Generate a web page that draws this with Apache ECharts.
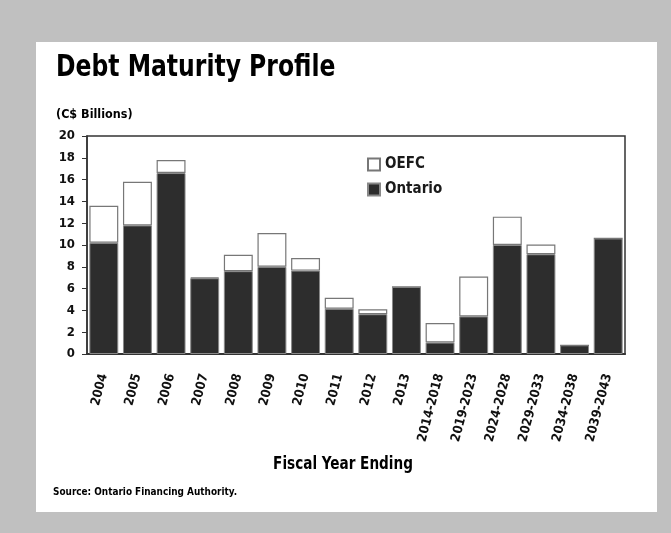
<!DOCTYPE html>
<html><head><meta charset="utf-8">
<script src="https://cdn.jsdelivr.net/npm/echarts@6/dist/echarts.min.js"></script>
<style>html,body{margin:0;padding:0;background:#c0c0c0}#c{width:671px;height:533px}</style>
</head><body><div id="c"></div>
<script>
var categories = ['2004','2005','2006','2007','2008','2009','2010','2011','2012','2013','2014-2018','2019-2023','2024-2028','2029-2033','2034-2038','2039-2043'];
var ontario = [10.2, 11.8, 16.6, 6.95, 7.6, 8.0, 7.65, 4.15, 3.65, 6.15, 1.05, 3.45, 10.0, 9.15, 0.8, 10.6];
var oefc = [3.4, 4.0, 1.2, 0.08, 1.5, 3.1, 1.15, 1.0, 0.45, 0, 1.8, 3.65, 2.6, 0.9, 0, 0];
var yTicks = [0,2,4,6,8,10,12,14,16,18,20];

var F = '"DejaVu Sans Condensed","Liberation Sans Narrow",sans-serif';
var chart = echarts.init(document.getElementById('c'));
chart.setOption({
  backgroundColor: '#c0c0c0',
  animation: false,
  graphic: [
    {type:'rect', shape:{x:36,y:42,width:621,height:470}, style:{fill:'#fff'}, z:-10},
    {type:'text', x:56, y:68, scaleX:0.87, style:{text:'Debt Maturity Profile', font:'bold 30px '+F, fill:'#000', verticalAlign:'middle'}},
    {type:'text', x:56, y:115, scaleX:0.96, style:{text:'(C$ Billions)', font:'bold 13px '+F, fill:'#000', verticalAlign:'middle'}},
    {type:'text', x:343, y:464.5, scaleX:0.84, style:{text:'Fiscal Year Ending', font:'bold 18px '+F, fill:'#000', align:'center', verticalAlign:'middle'}},
    {type:'text', x:53, y:492, scaleX:0.9, style:{text:'Source: Ontario Financing Authority.', font:'bold 11px '+F, fill:'#000', verticalAlign:'middle'}}
  ],
  legend: {
    data: ['OEFC','Ontario'],
    orient: 'vertical', left: 362, top: 152,
    itemWidth: 12, itemHeight: 12, itemGap: 10,
    icon: 'rect',
    textStyle: {fontFamily: F, fontWeight: 'bold', fontSize: 15, color:'#1a1a1a'}
  },
  grid: {left: 87, right: 46, top: 136, bottom: 179, show: true, borderColor: '#333', borderWidth: 1.5, backgroundColor:'transparent'},
  xAxis: {
    type: 'category', data: categories,
    axisLine: {lineStyle: {color: '#333', width: 2}},
    axisTick: {show: false},
    axisLabel: {rotate: 75, interval: 0, fontFamily: F, fontWeight: 'bold', fontSize: 13, color: '#111', margin: 20}
  },
  yAxis: {
    type: 'value', min: 0, max: 20, interval: 2,
    axisLine: {show: true, lineStyle: {color: '#333', width: 1.5}},
    axisTick: {show: true, length: 5, lineStyle: {color:'#333'}},
    splitLine: {show: false},
    axisLabel: {fontFamily: F, fontWeight: 'bold', fontSize: 13, color: '#111', margin: 12,
      formatter: function(v){ return yTicks.indexOf(v) >= 0 ? String(v) : ''; }}
  },
  series: [
    {name:'Ontario', type:'bar', stack:'t', data: ontario, barCategoryGap: '14%',
     itemStyle:{color:'#2d2d2d', borderColor:'#888', borderWidth:1}},
    {name:'OEFC', type:'bar', stack:'t', data: oefc,
     itemStyle:{color:'#fff', borderColor:'#777', borderWidth:1.2}}
  ]
});
</script></body></html>
